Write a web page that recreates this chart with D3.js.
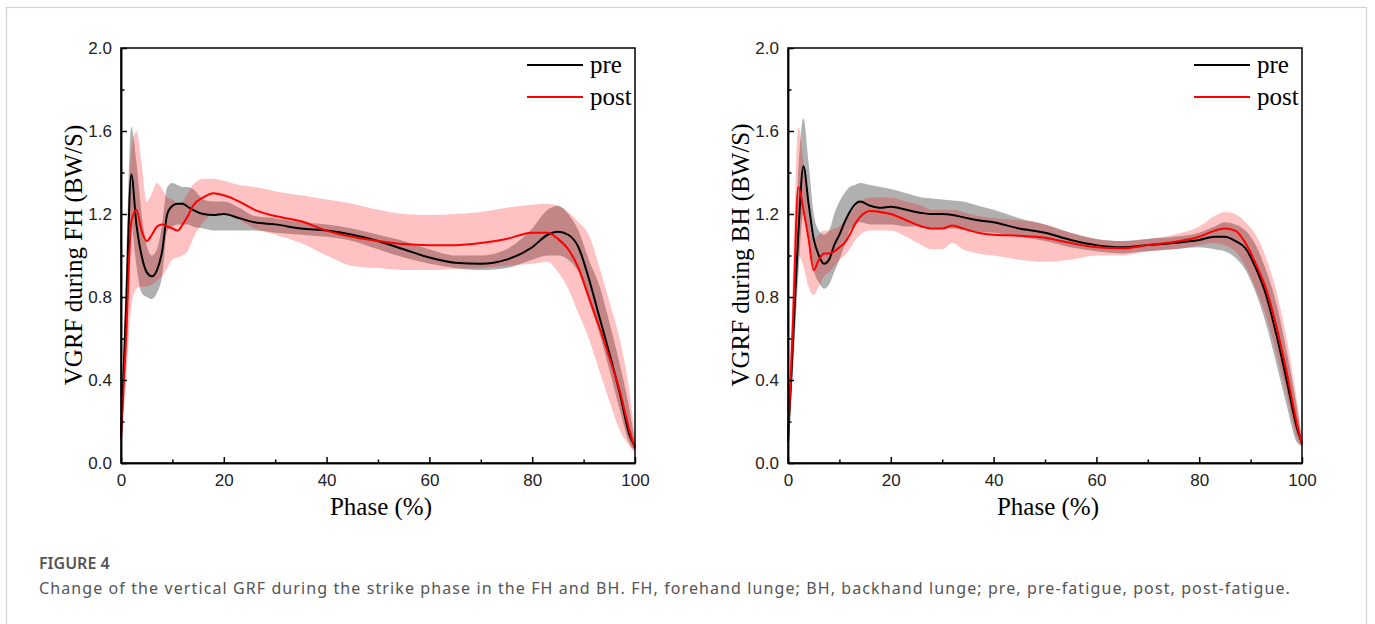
<!DOCTYPE html>
<html>
<head>
<meta charset="utf-8">
<script src="https://cdn.jsdelivr.net/npm/d3@7"></script>
<style>
body{margin:0;background:#fff}
</style>
</head>
<body>
<svg id="fig" width="1375" height="624"></svg>
<script>
// phase grid (% of strike phase) for each panel
var fhPhase = [0,1,2,3,4,5,6,7,8,9,10,11,12,13,14,16,18,20,23,26,30,35,40,45,50,55,60,65,70,75,80,83,85,87,89,91,93,95,97,99,100]
var bhPhase = [0,1,2,3,4,5,6,7,8,9,10,11,12,13,14,16,18,20,23,26,28,30,32,34,37,40,45,50,55,60,65,70,75,80,83,85,87,89,91,93,95,97,99,100]

// forehand lunge (FH), mean curve and band edges
var fhPre   = [0.12,0.75,1.39,1.15,1.0,0.92,0.90,0.93,1.02,1.20,1.24,1.25,1.25,1.235,1.22,1.20,1.195,1.20,1.18,1.16,1.15,1.13,1.12,1.10,1.07,1.03,0.99,0.965,0.96,0.98,1.04,1.10,1.115,1.10,1.04,0.89,0.71,0.53,0.34,0.13,0.08]
var fhPreLo = [0.10,0.6,1.15,0.95,0.82,0.80,0.79,0.82,0.9,1.12,1.14,1.15,1.15,1.15,1.14,1.13,1.12,1.12,1.12,1.12,1.11,1.10,1.09,1.07,1.03,0.99,0.96,0.94,0.93,0.94,0.98,1.0,1.0,0.98,0.92,0.78,0.63,0.45,0.26,0.09,0.06]
var fhPreHi = [0.14,0.95,1.62,1.45,1.2,1.05,1.0,1.03,1.15,1.33,1.35,1.34,1.33,1.33,1.32,1.27,1.26,1.26,1.23,1.19,1.18,1.16,1.15,1.13,1.10,1.07,1.03,1.0,1.0,1.03,1.13,1.22,1.24,1.2,1.12,0.98,0.86,0.68,0.48,0.25,0.1]
var fhPost   = [0.12,0.6,1.16,1.22,1.12,1.07,1.10,1.14,1.15,1.14,1.13,1.12,1.15,1.19,1.24,1.28,1.30,1.29,1.26,1.22,1.19,1.165,1.12,1.09,1.07,1.055,1.05,1.05,1.06,1.08,1.11,1.11,1.08,1.03,0.94,0.80,0.66,0.51,0.35,0.15,0.07]
var fhPostLo = [0.1,0.4,0.75,0.84,0.85,0.85,0.86,0.88,0.9,0.94,0.98,0.99,1.0,1.02,1.08,1.16,1.2,1.2,1.17,1.13,1.1,1.06,1.0,0.95,0.94,0.93,0.93,0.935,0.94,0.95,0.96,0.97,0.92,0.84,0.72,0.60,0.45,0.3,0.16,0.08,0.05]
var fhPostHi = [0.14,0.9,1.5,1.6,1.45,1.26,1.30,1.35,1.32,1.28,1.27,1.25,1.26,1.3,1.34,1.37,1.37,1.36,1.34,1.33,1.31,1.29,1.27,1.25,1.22,1.2,1.195,1.2,1.21,1.23,1.245,1.25,1.24,1.21,1.16,1.1,0.95,0.78,0.6,0.33,0.12]

// backhand lunge (BH)
var bhPre   = [0.1,0.6,1.1,1.43,1.25,1.08,1.0,0.96,0.98,1.05,1.1,1.16,1.21,1.245,1.26,1.24,1.23,1.235,1.22,1.205,1.20,1.20,1.195,1.185,1.17,1.16,1.13,1.11,1.075,1.05,1.04,1.05,1.06,1.075,1.09,1.09,1.07,1.035,0.94,0.81,0.62,0.40,0.17,0.095]
var bhPreLo = [0.09,0.45,0.9,1.2,1.1,0.93,0.87,0.84,0.86,0.92,0.98,1.05,1.12,1.15,1.16,1.15,1.15,1.15,1.14,1.14,1.135,1.13,1.13,1.125,1.115,1.11,1.09,1.07,1.04,1.02,1.01,1.02,1.03,1.04,1.03,1.02,0.99,0.93,0.82,0.67,0.48,0.28,0.1,0.08]
var bhPreHi = [0.12,0.8,1.4,1.66,1.45,1.2,1.12,1.1,1.12,1.2,1.26,1.3,1.33,1.34,1.35,1.34,1.33,1.32,1.30,1.28,1.275,1.27,1.265,1.26,1.24,1.22,1.18,1.15,1.11,1.08,1.07,1.08,1.09,1.11,1.14,1.16,1.15,1.12,1.05,0.93,0.77,0.54,0.27,0.11]
var bhPost   = [0.1,0.7,1.33,1.22,1.08,0.93,0.98,1.01,1.01,1.02,1.04,1.06,1.10,1.15,1.185,1.215,1.21,1.20,1.17,1.14,1.13,1.13,1.145,1.13,1.11,1.10,1.095,1.085,1.06,1.04,1.035,1.05,1.065,1.09,1.12,1.13,1.12,1.06,0.96,0.84,0.66,0.44,0.19,0.09]
var bhPostLo = [0.09,0.5,1.0,0.95,0.85,0.81,0.85,0.9,0.92,0.95,0.98,1.0,1.03,1.07,1.1,1.12,1.12,1.12,1.09,1.05,1.03,1.03,1.06,1.03,1.01,1.0,0.98,0.97,0.98,1.0,1.0,1.02,1.03,1.05,1.06,1.05,1.02,0.95,0.84,0.71,0.53,0.33,0.12,0.08]
var bhPostHi = [0.12,0.95,1.62,1.45,1.2,1.08,1.1,1.12,1.12,1.13,1.14,1.17,1.2,1.23,1.26,1.28,1.28,1.28,1.26,1.24,1.22,1.22,1.22,1.21,1.19,1.18,1.17,1.15,1.11,1.08,1.07,1.08,1.1,1.14,1.19,1.21,1.2,1.16,1.1,0.99,0.83,0.6,0.3,0.11]

var xTicks = [0,20,40,60,80,100]
var xMinor = [10,30,50,70,90]
var yTicks = [0,0.4,0.8,1.2,1.6,2.0]
var yMinor = [0.2,0.6,1.0,1.4,1.8]
var legendNames = ['pre','post']
var caption = 'Change of the vertical GRF during the strike phase in the FH and BH. FH, forehand lunge; BH, backhand lunge; pre, pre-fatigue, post, post-fatigue.'

var svg = d3.select('#fig')
var serif = '"Liberation Serif","Times New Roman",serif'
var sans = '"Liberation Sans",Arial,sans-serif'

// outer figure frame
svg.append('rect')
  .attr('x',6.5).attr('y',7.5)
  .attr('width',1360).attr('height',700)
  .attr('fill','none')
  .attr('stroke','#d2d2d2')
  .attr('stroke-width',1.2)

function drawPanel(left, right, yTitle, phase, pre, preLo, preHi, post, postLo, postHi){
  var top = 48, bottom = 463
  var x = d3.scaleLinear().domain([0,100]).range([left,right])
  var y = d3.scaleLinear().domain([0,2]).range([bottom,top])
  var g = svg.append('g')

  var band = function(lo,hi){
    return d3.area().curve(d3.curveMonotoneX)
      .x(function(d,i){return x(phase[i])})
      .y0(function(d,i){return y(lo[i])})
      .y1(function(d,i){return y(hi[i])})
  }
  var line = function(v){
    return d3.line().curve(d3.curveMonotoneX)
      .x(function(d,i){return x(phase[i])})
      .y(function(d,i){return y(v[i])})
  }

  g.append('path').datum(phase).attr('d',band(preLo,preHi))
    .attr('fill','rgb(128,128,128)').attr('fill-opacity',0.62)
  g.append('path').datum(phase).attr('d',band(postLo,postHi))
    .attr('fill','rgb(255,0,0)').attr('fill-opacity',0.24)
  g.append('path').datum(phase).attr('d',line(pre))
    .attr('fill','none').attr('stroke','#000').attr('stroke-width',2)
  g.append('path').datum(phase).attr('d',line(post))
    .attr('fill','none').attr('stroke','#f00').attr('stroke-width',2)

  // box
  g.append('rect')
    .attr('x',left).attr('y',top)
    .attr('width',right-left).attr('height',bottom-top)
    .attr('fill','none').attr('stroke','#000').attr('stroke-width',1.5)

  g.append('g').attr('transform','translate(0,'+bottom+')')
    .call(d3.axisBottom(x).tickValues(xTicks).tickSize(-6).tickSizeOuter(0).tickPadding(11).tickFormat(d3.format('d')))
  g.append('g').attr('transform','translate(0,'+bottom+')')
    .call(d3.axisBottom(x).tickValues(xMinor).tickSize(-3.5).tickSizeOuter(0).tickFormat(''))
  g.append('g').attr('transform','translate('+left+',0)')
    .call(d3.axisLeft(y).tickValues(yTicks).tickSize(-6).tickSizeOuter(0).tickPadding(9).tickFormat(d3.format('.1f')))
  g.append('g').attr('transform','translate('+left+',0)')
    .call(d3.axisLeft(y).tickValues(yMinor).tickSize(-3.5).tickSizeOuter(0).tickFormat(''))
  g.selectAll('.domain').attr('stroke','#000').attr('stroke-width',1.5)
  g.selectAll('.tick line').attr('stroke','#000').attr('stroke-width',1.5)
  g.selectAll('.tick text').attr('font-family',sans).attr('font-size',17).attr('fill','#222')

  // axis titles
  g.append('text')
    .attr('x',(left+right)/2+3).attr('y',515)
    .attr('text-anchor','middle')
    .attr('font-family',serif).attr('font-size',25)
    .text('Phase (%)')
  g.append('text')
    .attr('transform','translate('+(left-39)+',255) rotate(-90)')
    .attr('text-anchor','middle')
    .attr('font-family',serif).attr('font-size',25)
    .text(yTitle)

  // legend
  var colors = ['#000','#f00']
  legendNames.forEach(function(n,i){
    var ly = top+17+i*32
    g.append('line')
      .attr('x1',right-108).attr('x2',right-52)
      .attr('y1',ly).attr('y2',ly)
      .attr('stroke',colors[i]).attr('stroke-width',2)
    g.append('text')
      .attr('x',right-45).attr('y',ly+8)
      .attr('font-family',serif).attr('font-size',25)
      .text(n)
  })
}

drawPanel(121,635,'VGRF during FH (BW/S)',fhPhase,fhPre,fhPreLo,fhPreHi,fhPost,fhPostLo,fhPostHi)
drawPanel(788,1302,'VGRF during BH (BW/S)',bhPhase,bhPre,bhPreLo,bhPreHi,bhPost,bhPostLo,bhPostHi)

// caption
svg.append('text')
  .attr('x',39).attr('y',569)
  .attr('font-family','"Noto Sans",sans-serif').attr('font-size',16).attr('font-weight',600)
  .attr('fill','#555')
  .text('FIGURE 4')
var cap = svg.append('text')
  .attr('x',39).attr('y',594)
  .attr('font-family','"Noto Sans",sans-serif').attr('font-size',16)
  .attr('fill','#555')
  .text(caption)
// fit the caption to the reference line width
var w = cap.node().getComputedTextLength()
cap.attr('letter-spacing',((1252-w)/caption.length).toFixed(3))
</script>
</body>
</html>
